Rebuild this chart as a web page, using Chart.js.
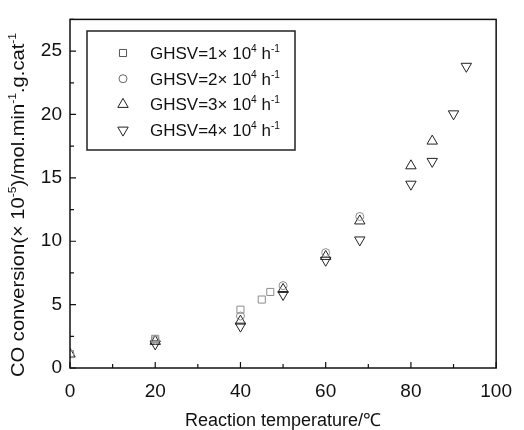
<!DOCTYPE html>
<html>
<head>
<meta charset="utf-8">
<script src="https://cdn.jsdelivr.net/npm/chart.js@4.4.1/dist/chart.umd.min.js"></script>
<style>
  html, body { margin: 0; padding: 0; background: #fff; }
  #wrap { width: 524px; height: 430px; position: relative; }
</style>
</head>
<body>
<div id="wrap"><canvas id="chart"></canvas></div>
<script>
// values
const temp1 = [0, 20, 40, 45, 47];
const conv1 = [1.1, 2.3, 4.6, 5.4, 6.0];
const temp2 = [0, 20, 40, 50, 60, 68];
const conv2 = [1.1, 2.2, 4.1, 6.5, 9.1, 11.95];
const temp3 = [0, 20, 40, 50, 60, 68, 80, 85];
const conv3 = [1.1, 2.1, 3.7, 6.2, 8.8, 11.6, 15.95, 17.9];
const temp4 = [20, 40, 50, 60, 68, 80, 85, 90, 93];
const conv4 = [1.9, 3.3, 5.8, 8.5, 10.1, 14.5, 16.3, 20.05, 23.8];

const seriesLabels = ['GHSV=1× 10⁴ h⁻¹', 'GHSV=2× 10⁴ h⁻¹', 'GHSV=3× 10⁴ h⁻¹', 'GHSV=4× 10⁴ h⁻¹'];
const xTicks = [0, 20, 40, 60, 80, 100];
const yTicks = [0, 5, 10, 15, 20, 25];
const xTitle = 'Reaction temperature/℃';
const yTitle = 'CO conversion(× 10⁻⁵)/mol.min⁻¹.g.cat⁻¹';

const FONT = '"Liberation Sans", Arial, sans-serif';
const SUP = { '⁰': '0', '¹': '1', '²': '2', '³': '3', '⁴': '4', '⁵': '5', '⁻': '-' };

function pts(xs, ys) {
    return xs.map((x, i) => ({ x: x, y: ys[i] }));
}

// text with superscript chars drawn small and raised
function richParts(text) {
    const parts = [];
    for (const ch of text) {
        const sup = SUP[ch] !== undefined;
        const c = sup ? SUP[ch] : ch;
        const last = parts[parts.length - 1];
        if (last && last.sup === sup) last.t += c;
        else parts.push({ t: c, sup: sup });
    }
    return parts;
}

function richWidth(ctx, text, size) {
    let w = 0;
    richParts(text).forEach(p => {
        ctx.font = (p.sup ? size * 0.6 : size) + 'px ' + FONT;
        w += ctx.measureText(p.t).width;
    });
    return w;
}

function drawRich(ctx, text, x, y, size) {
    let cx = x;
    ctx.textBaseline = 'alphabetic';
    ctx.textAlign = 'left';
    richParts(text).forEach(p => {
        ctx.font = (p.sup ? size * 0.6 : size) + 'px ' + FONT;
        ctx.fillText(p.t, cx, p.sup ? y - size * 0.42 : y);
        cx += ctx.measureText(p.t).width;
    });
}

const framePlugin = {
    id: 'frame',
    afterDraw(chart) {
        const ctx = chart.ctx;
        const a = chart.chartArea;
        const xs = chart.scales.x, ys = chart.scales.y;
        ctx.save();
        ctx.strokeStyle = '#111';
        ctx.lineWidth = 1.5;
        ctx.strokeRect(a.left, a.top, a.right - a.left, a.bottom - a.top);

        // inward ticks
        ctx.lineWidth = 1.2;
        ctx.beginPath();
        for (let v = 0; v <= 100; v += 10) {
            const px = xs.getPixelForValue(v);
            const len = v % 20 === 0 ? 6 : 4;
            ctx.moveTo(px, a.bottom);
            ctx.lineTo(px, a.bottom - len);
        }
        for (let v = 0; v <= 27.5; v += 2.5) {
            const py = ys.getPixelForValue(v);
            const len = v % 5 === 0 ? 6 : 4;
            ctx.moveTo(a.left, py);
            ctx.lineTo(a.left + len, py);
        }
        ctx.stroke();

        // axis titles
        ctx.fillStyle = '#111';
        ctx.font = '18px ' + FONT;
        ctx.textAlign = 'center';
        ctx.textBaseline = 'middle';
        ctx.fillText(xTitle, (a.left + a.right) / 2, 421);

        const size = 18;
        const w = richWidth(ctx, yTitle, size);
        ctx.translate(24, 205);
        ctx.rotate(-Math.PI / 2);
        ctx.scale(344 / w, 1);
        drawRich(ctx, yTitle, -w / 2, 0, size);
        ctx.restore();

        // legend box
        ctx.save();
        const lx = 87, ly = 31, lw = 208, lh = 119;
        ctx.fillStyle = '#fff';
        ctx.fillRect(lx, ly, lw, lh);
        ctx.strokeStyle = '#222';
        ctx.lineWidth = 1.5;
        ctx.strokeRect(lx, ly, lw, lh);
        chart.data.datasets.forEach((ds, i) => {
            const cy = 53 + i * 25.7;
            ctx.strokeStyle = ds.legendColor;
            ctx.fillStyle = 'rgba(0,0,0,0)';
            ctx.lineWidth = 1;
            Chart.helpers.drawPoint(ctx, {
                pointStyle: ds.pointStyle,
                radius: ds.pointRadius,
                rotation: ds.rotation || 0,
                borderWidth: 1
            }, 123, cy);
            ctx.fillStyle = '#111';
            drawRich(ctx, ds.label, 150, cy + 6, 17);
        });
        ctx.restore();
    }
};

const ctx = document.getElementById('chart').getContext('2d');
new Chart(ctx, {
    type: 'scatter',
    data: {
        datasets: [
            { label: seriesLabels[0], data: pts(temp1, conv1), pointStyle: 'rect', pointRadius: 5,
              borderColor: '#8c8c8c', legendColor: '#555', backgroundColor: 'transparent', borderWidth: 1, clip: 0 },
            { label: seriesLabels[1], data: pts(temp2, conv2), pointStyle: 'circle', pointRadius: 4,
              borderColor: '#8c8c8c', legendColor: '#666', backgroundColor: 'transparent', borderWidth: 1, clip: 0 },
            { label: seriesLabels[2], data: pts(temp3, conv3), pointStyle: 'triangle', pointRadius: 6,
              borderColor: '#222', legendColor: '#222', backgroundColor: 'transparent', borderWidth: 1, clip: 0 },
            { label: seriesLabels[3], data: pts(temp4, conv4), pointStyle: 'triangle', pointRadius: 6, rotation: 180,
              borderColor: '#222', legendColor: '#222', backgroundColor: 'transparent', borderWidth: 1, clip: 0 }
        ]
    },
    options: {
        responsive: true,
        maintainAspectRatio: false,
        animation: false,
        layout: { padding: { left: 0, right: 19, top: 13, bottom: 0 } },
        plugins: {
            legend: { display: false },
            tooltip: { enabled: false }
        },
        scales: {
            x: {
                type: 'linear',
                min: 0,
                max: 100,
                grid: { display: false, drawTicks: false },
                border: { display: false },
                afterBuildTicks: (s) => { s.ticks = xTicks.map(v => ({ value: v })); },
                ticks: { color: '#111', font: { size: 19, family: FONT }, padding: 12, maxRotation: 0 },
                afterFit: (s) => { s.height = 62; }
            },
            y: {
                min: 0,
                max: 27.5,
                grid: { display: false, drawTicks: false },
                border: { display: false },
                afterBuildTicks: (s) => { s.ticks = yTicks.map(v => ({ value: v })); },
                ticks: { color: '#111', font: { size: 19, family: FONT }, padding: 8 },
                afterFit: (s) => { s.width = 70; }
            }
        }
    },
    plugins: [framePlugin]
});
</script>
</body>
</html>
